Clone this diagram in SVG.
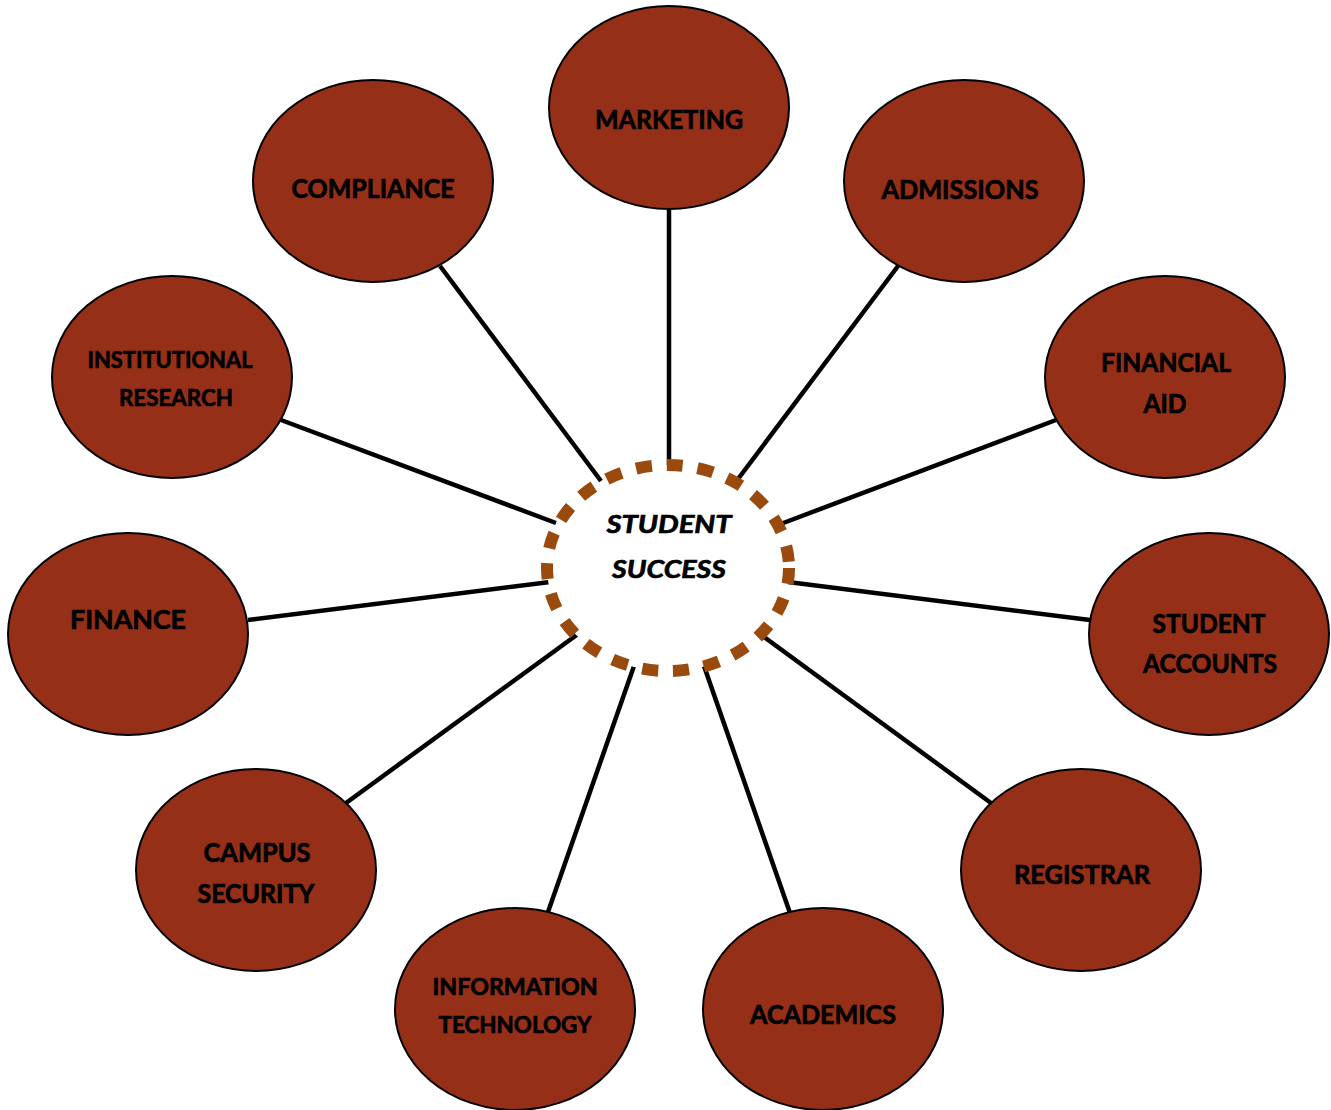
<svg xmlns="http://www.w3.org/2000/svg" width="1331" height="1110" viewBox="0 0 1331 1110">
<style>
.node ellipse{fill:#952F17;stroke:#000;stroke-width:2}
.node text{font-family:Lato,"Open Sans","Liberation Sans",sans-serif;font-weight:bold;fill:#000;stroke:#000;stroke-width:0.7;text-anchor:middle;font-size:26px}
.node text.s{font-size:23px}
#connectors line{stroke:#000;stroke-width:4.5}
#center ellipse{fill:#fff;stroke:#9A4A0C;stroke-width:12;stroke-dasharray:16 15}
#center text{font-family:Lato,"Open Sans","Liberation Sans",sans-serif;font-weight:bold;font-style:italic;font-size:25px;text-anchor:middle;fill:#000;stroke:#000;stroke-width:0.7}
</style>
<rect width="1331" height="1110" fill="#fff"/>
<g id="connectors">
<line x1="669" y1="209" x2="669" y2="486"/>
<line x1="440" y1="266" x2="601" y2="481"/>
<line x1="898" y1="266" x2="735" y2="483"/>
<line x1="281" y1="420" x2="556" y2="523"/>
<line x1="1056" y1="420" x2="778" y2="525"/>
<line x1="248" y1="620" x2="550" y2="582"/>
<line x1="1090" y1="620" x2="788" y2="582"/>
<line x1="346" y1="803" x2="578" y2="634"/>
<line x1="991" y1="803" x2="760" y2="634"/>
<line x1="548" y1="912" x2="634" y2="666"/>
<line x1="790" y1="913" x2="704" y2="666"/>
</g>
<g id="center">
<ellipse cx="668" cy="568" rx="121" ry="103"/>
<text x="669" y="533" textLength="125" lengthAdjust="spacingAndGlyphs">STUDENT</text>
<text x="669" y="578" textLength="114" lengthAdjust="spacingAndGlyphs">SUCCESS</text>
</g>
<g id="marketing" class="node"><ellipse cx="669" cy="107.5" rx="120" ry="101.5"/><text x="669" y="129" textLength="148" lengthAdjust="spacingAndGlyphs">MARKETING</text></g>
<g id="compliance" class="node"><ellipse cx="373" cy="181" rx="120" ry="101"/><text x="373" y="198" textLength="163" lengthAdjust="spacingAndGlyphs">COMPLIANCE</text></g>
<g id="admissions" class="node"><ellipse cx="964" cy="181" rx="120" ry="101"/><text x="960" y="199" textLength="157" lengthAdjust="spacingAndGlyphs">ADMISSIONS</text></g>
<g id="institutional-research" class="node"><ellipse cx="172" cy="377" rx="120" ry="101"/><text class="s" x="170" y="368" textLength="165" lengthAdjust="spacingAndGlyphs">INSTITUTIONAL</text><text class="s" x="176" y="406" textLength="114" lengthAdjust="spacingAndGlyphs">RESEARCH</text></g>
<g id="financial-aid" class="node"><ellipse cx="1165" cy="377" rx="120" ry="101"/><text x="1166" y="372" textLength="130" lengthAdjust="spacingAndGlyphs">FINANCIAL</text><text x="1165" y="413" textLength="43" lengthAdjust="spacingAndGlyphs">AID</text></g>
<g id="finance" class="node"><ellipse cx="128" cy="634" rx="120" ry="101"/><text x="128" y="629" textLength="116" lengthAdjust="spacingAndGlyphs">FINANCE</text></g>
<g id="student-accounts" class="node"><ellipse cx="1209" cy="634" rx="120" ry="101"/><text x="1209" y="633" textLength="113" lengthAdjust="spacingAndGlyphs">STUDENT</text><text x="1210" y="673" textLength="134" lengthAdjust="spacingAndGlyphs">ACCOUNTS</text></g>
<g id="campus-security" class="node"><ellipse cx="256" cy="870" rx="120" ry="101"/><text x="257" y="862" textLength="107" lengthAdjust="spacingAndGlyphs">CAMPUS</text><text x="256" y="903" textLength="117" lengthAdjust="spacingAndGlyphs">SECURITY</text></g>
<g id="registrar" class="node"><ellipse cx="1081" cy="870" rx="120" ry="101"/><text x="1082" y="884" textLength="136" lengthAdjust="spacingAndGlyphs">REGISTRAR</text></g>
<g id="information-technology" class="node"><ellipse cx="515" cy="1009" rx="120" ry="101"/><text class="s" x="515" y="995" textLength="165" lengthAdjust="spacingAndGlyphs">INFORMATION</text><text class="s" x="515" y="1033" textLength="153" lengthAdjust="spacingAndGlyphs">TECHNOLOGY</text></g>
<g id="academics" class="node"><ellipse cx="823" cy="1009" rx="120" ry="101"/><text x="823" y="1024" textLength="146" lengthAdjust="spacingAndGlyphs">ACADEMICS</text></g>
</svg>
